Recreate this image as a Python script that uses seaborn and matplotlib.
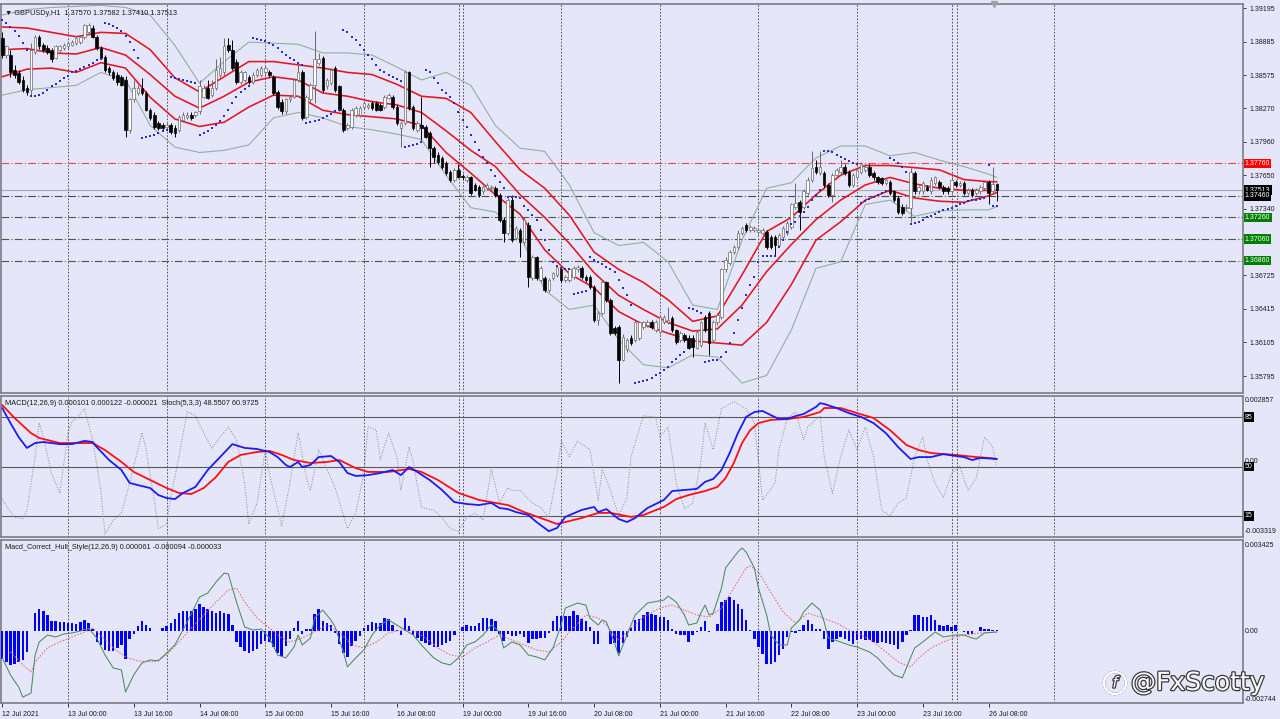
"""GBPUSD H1 chart: envelopes, Bollinger bands, parabolic SAR, MACD/Stoch pane and Hull MACD pane."""

import matplotlib

matplotlib.use("Agg")
import matplotlib.pyplot as plt
import matplotlib.patheffects as pe
from matplotlib.patches import Ellipse
import numpy as np
import pandas as pd
import seaborn as sns


# candles, prices in pips (1e-4), one value per hourly bar starting 12 Jul 08:00
OPEN_PIPS = [
    13892, 13876, 13876, 13862, 13859, 13853, 13846, 13844, 13879, 13893,
    13885, 13883, 13881, 13873, 13881, 13883, 13884, 13885, 13887, 13888,
    13893, 13897, 13901, 13893, 13883, 13874, 13864, 13860, 13858, 13856,
    13853, 13807, 13835, 13841, 13846, 13841, 13825, 13821, 13813, 13811,
    13810, 13811, 13809, 13807, 13816, 13819, 13821, 13821, 13824, 13837,
    13846, 13839, 13846, 13858, 13860, 13885, 13881, 13870, 13851, 13853,
    13856, 13851, 13858, 13858, 13860, 13860, 13856, 13842, 13833, 13824,
    13835, 13837, 13853, 13860, 13819, 13835, 13848, 13869, 13873, 13847,
    13850, 13864, 13847, 13825, 13809, 13810, 13821, 13821, 13828, 13828,
    13832, 13832, 13830, 13828, 13836, 13837, 13828, 13809, 13813, 13860,
    13828, 13807, 13811, 13810, 13804, 13790, 13784, 13781, 13776, 13768,
    13761, 13770, 13764, 13761, 13763, 13756, 13754, 13750, 13753, 13753,
    13753, 13747, 13724, 13712, 13742, 13707, 13714, 13703, 13719, 13670,
    13689, 13668, 13670, 13659, 13670, 13673, 13678, 13668, 13668, 13671,
    13678, 13679, 13671, 13671, 13662, 13631, 13638, 13666, 13650, 13624,
    13625, 13594, 13604, 13615, 13613, 13615, 13625, 13627, 13629, 13622,
    13620, 13629, 13629, 13633, 13622, 13613, 13617, 13615, 13615, 13605,
    13608, 13634, 13638, 13613, 13629, 13634, 13678, 13684, 13694, 13699,
    13712, 13719, 13714, 13714, 13713, 13712, 13713, 13708, 13708, 13701,
    13708, 13712, 13717, 13736, 13740, 13736, 13749, 13761, 13773, 13767,
    13767, 13756, 13747, 13765, 13768, 13773, 13768, 13756, 13763, 13768,
    13770, 13773, 13767, 13763, 13762, 13758, 13759, 13750, 13744, 13736,
    13735, 13735, 13767, 13750, 13750, 13754, 13750, 13758, 13759, 13754,
    13753, 13750, 13759, 13756, 13758, 13749, 13751, 13749, 13750, 13753,
    13759, 13750, 13757,
]
HIGH_PIPS = [
    13897, 13885, 13881, 13867, 13862, 13857, 13848, 13887, 13895, 13895,
    13887, 13885, 13883, 13885, 13885, 13887, 13889, 13890, 13894, 13895,
    13905, 13906, 13904, 13895, 13884, 13876, 13866, 13862, 13860, 13858,
    13857, 13836, 13853, 13848, 13855, 13843, 13827, 13823, 13815, 13813,
    13813, 13813, 13811, 13821, 13823, 13823, 13823, 13824, 13853, 13848,
    13853, 13853, 13872, 13874, 13892, 13892, 13890, 13872, 13862, 13861,
    13858, 13860, 13864, 13866, 13866, 13862, 13858, 13844, 13835, 13836,
    13839, 13855, 13867, 13862, 13839, 13850, 13898, 13878, 13875, 13855,
    13864, 13866, 13848, 13827, 13813, 13827, 13829, 13829, 13834, 13832,
    13834, 13834, 13832, 13839, 13841, 13839, 13830, 13815, 13862, 13861,
    13830, 13815, 13837, 13811, 13806, 13792, 13786, 13783, 13778, 13770,
    13772, 13775, 13766, 13765, 13764, 13758, 13756, 13756, 13758, 13756,
    13755, 13749, 13726, 13744, 13747, 13718, 13716, 13726, 13722, 13691,
    13690, 13681, 13672, 13670, 13676, 13682, 13679, 13673, 13679, 13681,
    13682, 13681, 13673, 13673, 13664, 13640, 13668, 13667, 13652, 13626,
    13627, 13618, 13615, 13617, 13631, 13630, 13630, 13631, 13631, 13631,
    13636, 13636, 13643, 13635, 13623, 13621, 13619, 13617, 13617, 13622,
    13630, 13636, 13640, 13631, 13638, 13679, 13689, 13696, 13701, 13714,
    13718, 13721, 13719, 13718, 13716, 13716, 13714, 13710, 13710, 13712,
    13718, 13723, 13739, 13758, 13742, 13752, 13763, 13787, 13779, 13787,
    13769, 13758, 13767, 13772, 13779, 13775, 13770, 13767, 13772, 13777,
    13775, 13775, 13769, 13764, 13763, 13763, 13761, 13751, 13746, 13738,
    13738, 13772, 13769, 13755, 13760, 13756, 13763, 13764, 13761, 13756,
    13755, 13763, 13761, 13760, 13760, 13753, 13753, 13753, 13756, 13761,
    13761, 13773, 13758,
]
LOW_PIPS = [
    13873, 13873, 13856, 13855, 13849, 13842, 13839, 13839, 13877, 13882,
    13879, 13877, 13870, 13872, 13879, 13881, 13882, 13884, 13885, 13886,
    13891, 13895, 13892, 13881, 13872, 13860, 13858, 13853, 13848, 13847,
    13800, 13804, 13833, 13839, 13839, 13824, 13816, 13808, 13807, 13807,
    13808, 13803, 13800, 13805, 13814, 13817, 13816, 13819, 13822, 13836,
    13835, 13837, 13844, 13856, 13858, 13879, 13862, 13849, 13849, 13851,
    13849, 13849, 13856, 13856, 13858, 13856, 13839, 13826, 13822, 13822,
    13833, 13836, 13851, 13816, 13817, 13833, 13832, 13867, 13842, 13845,
    13848, 13842, 13824, 13805, 13807, 13808, 13819, 13819, 13826, 13826,
    13825, 13824, 13824, 13826, 13835, 13826, 13811, 13791, 13811, 13825,
    13807, 13805, 13798, 13799, 13773, 13776, 13775, 13771, 13765, 13759,
    13759, 13762, 13761, 13759, 13747, 13750, 13745, 13748, 13751, 13751,
    13745, 13722, 13703, 13710, 13703, 13705, 13689, 13701, 13662, 13668,
    13668, 13666, 13657, 13657, 13668, 13671, 13666, 13666, 13666, 13669,
    13676, 13669, 13666, 13660, 13629, 13627, 13636, 13648, 13617, 13617,
    13573, 13593, 13602, 13608, 13611, 13613, 13623, 13625, 13623, 13620,
    13618, 13628, 13628, 13620, 13609, 13611, 13611, 13604, 13597, 13604,
    13606, 13620, 13599, 13611, 13627, 13632, 13676, 13682, 13692, 13697,
    13710, 13713, 13713, 13713, 13711, 13710, 13697, 13697, 13691, 13699,
    13706, 13710, 13715, 13734, 13714, 13734, 13747, 13759, 13766, 13765,
    13754, 13745, 13740, 13763, 13766, 13765, 13754, 13754, 13762, 13766,
    13768, 13763, 13761, 13757, 13756, 13756, 13747, 13740, 13729, 13728,
    13733, 13722, 13748, 13748, 13748, 13750, 13748, 13756, 13752, 13748,
    13748, 13748, 13754, 13754, 13747, 13747, 13745, 13747, 13748, 13751,
    13738, 13748, 13741,
]
CLOSE_PIPS = [
    13876, 13884, 13860, 13858, 13851, 13844, 13842, 13881, 13893, 13884,
    13881, 13879, 13872, 13884, 13884, 13885, 13887, 13888, 13892, 13893,
    13904, 13904, 13893, 13883, 13873, 13862, 13860, 13855, 13851, 13848,
    13807, 13835, 13846, 13846, 13841, 13825, 13818, 13810, 13809, 13809,
    13811, 13805, 13804, 13819, 13821, 13821, 13818, 13823, 13847, 13846,
    13836, 13846, 13862, 13864, 13884, 13881, 13864, 13851, 13860, 13860,
    13851, 13858, 13862, 13864, 13864, 13858, 13841, 13828, 13824, 13835,
    13837, 13853, 13860, 13818, 13837, 13848, 13872, 13872, 13844, 13853,
    13862, 13844, 13825, 13807, 13811, 13825, 13827, 13827, 13832, 13830,
    13827, 13825, 13825, 13837, 13839, 13828, 13813, 13813, 13860, 13827,
    13809, 13813, 13809, 13800, 13790, 13782, 13777, 13773, 13767, 13761,
    13770, 13763, 13763, 13763, 13749, 13751, 13747, 13754, 13756, 13754,
    13747, 13724, 13712, 13742, 13705, 13716, 13703, 13724, 13671, 13689,
    13670, 13679, 13659, 13668, 13675, 13680, 13668, 13671, 13678, 13679,
    13680, 13671, 13668, 13662, 13631, 13638, 13666, 13650, 13619, 13619,
    13594, 13616, 13613, 13610, 13629, 13629, 13629, 13629, 13625, 13629,
    13634, 13634, 13631, 13622, 13611, 13619, 13613, 13605, 13606, 13620,
    13629, 13622, 13610, 13629, 13636, 13678, 13687, 13694, 13699, 13712,
    13716, 13714, 13717, 13716, 13714, 13714, 13699, 13699, 13701, 13710,
    13716, 13721, 13738, 13739, 13731, 13750, 13761, 13772, 13768, 13773,
    13756, 13747, 13765, 13770, 13773, 13767, 13756, 13765, 13770, 13775,
    13773, 13765, 13763, 13759, 13758, 13761, 13749, 13742, 13731, 13730,
    13736, 13768, 13750, 13754, 13758, 13751, 13761, 13763, 13754, 13750,
    13750, 13761, 13756, 13758, 13749, 13751, 13747, 13751, 13754, 13759,
    13749, 13757, 13751,
]

# parabolic SAR, one dot per bar (pips)
SAR_PIPS = [
    13908, 13906, 13902, 13898, 13894, 13887, 13881,
    13838, 13838, 13839, 13841, 13844, 13847, 13849, 13852, 13855, 13857,
    13860, 13861, 13863, 13865, 13867, 13869, 13871, 13872,
    13906, 13905, 13903, 13901, 13898, 13894, 13888, 13881, 13873,
    13799, 13800, 13801, 13802, 13804, 13806, 13807,
    13856, 13855, 13854, 13853, 13852, 13851, 13850,
    13802, 13804, 13806, 13809, 13811, 13815, 13820, 13825, 13832, 13837,
    13842, 13845, 13847,
    13892, 13891, 13890, 13889, 13887, 13885, 13883, 13879, 13876, 13873,
    13871, 13869, 13867,
    13813, 13814, 13815, 13816, 13818, 13820, 13822, 13824, 13825,
    13899, 13897, 13893, 13890, 13885, 13881, 13876, 13872, 13867, 13862,
    13860, 13858, 13856, 13854, 13852,
    13791, 13792, 13793, 13794, 13796,
    13862, 13860, 13855, 13850, 13844, 13841, 13837, 13832, 13823, 13816,
    13810, 13802, 13796, 13788, 13782, 13776, 13770, 13764, 13759, 13753,
    13745, 13745, 13745, 13744, 13737, 13733, 13728, 13724, 13714, 13705,
    13696, 13685, 13681, 13679, 13678, 13678,
    13655, 13656, 13657, 13658,
    13689, 13687, 13685, 13683, 13680, 13678, 13676, 13668, 13661, 13654, 13645,
    13573, 13574, 13575, 13576, 13578, 13580, 13582, 13585, 13588, 13592,
    13595, 13599, 13602,
    13642, 13641, 13640, 13638,
    13592, 13593, 13594, 13594, 13597, 13602, 13610, 13619, 13631, 13642,
    13654, 13664, 13671, 13685, 13690, 13690, 13690, 13690, 13699, 13705,
    13713, 13720, 13722, 13727, 13731, 13736, 13742, 13747, 13751,
    13787, 13787, 13786, 13784, 13782, 13780, 13778, 13776, 13775,
    13739, 13741, 13743, 13745, 13747, 13749, 13750,
    13781, 13779, 13776, 13773, 13768,
    13720, 13721, 13722, 13724, 13726, 13727, 13729, 13731, 13733, 13734,
    13735, 13737, 13738, 13739, 13741, 13742, 13742, 13743, 13744,
    13774,
    13737, 13737,
]

# channel and Bollinger lines, read every 6 bars (pips)
BAND_BARS = list(range(0, 241, 6)) + [242]
ENV_UPPER_PIPS = [
    13902, 13901, 13897, 13893, 13897, 13896, 13881, 13855, 13842, 13856,
    13870, 13870, 13867, 13864, 13860, 13858, 13849, 13838, 13836, 13823,
    13796, 13770, 13753, 13728, 13694, 13678, 13666, 13650, 13630, 13635,
    13673, 13713, 13726, 13747, 13765, 13774, 13774, 13772, 13770, 13761,
    13759, 13759,
]
ENV_MID_PIPS = [
    13881, 13882, 13878, 13877, 13883, 13876, 13858, 13838, 13827, 13838,
    13851, 13856, 13853, 13841, 13838, 13833, 13830, 13823, 13806, 13788,
    13773, 13747, 13726, 13702, 13675, 13654, 13641, 13629, 13621, 13623,
    13645, 13676, 13701, 13724, 13742, 13756, 13763, 13757, 13753, 13751,
    13751, 13751,
]
ENV_LOWER_PIPS = [
    13856, 13863, 13864, 13860, 13869, 13864, 13837, 13817, 13810, 13814,
    13828, 13839, 13838, 13825, 13821, 13819, 13817, 13811, 13786, 13767,
    13747, 13729, 13696, 13674, 13661, 13639, 13627, 13619, 13612, 13610,
    13608, 13629, 13664, 13705, 13722, 13742, 13751, 13744, 13741, 13740,
    13746, 13749,
]
BB_UPPER_PIPS = [
    13913, 13918, 13920, 13921, 13922, 13920, 13913, 13885, 13850, 13870,
    13888, 13887, 13886, 13878, 13878, 13876, 13865, 13853, 13860, 13848,
    13811, 13790, 13787, 13756, 13712, 13700, 13703, 13685, 13645, 13641,
    13705, 13753, 13758, 13781, 13792, 13792, 13783, 13786, 13779, 13773,
    13766, 13763,
]
BB_LOWER_PIPS = [
    13839, 13844, 13846, 13848, 13860, 13853, 13811, 13791, 13786, 13788,
    13793, 13818, 13823, 13818, 13810, 13807, 13803, 13798, 13765, 13735,
    13731, 13710, 13659, 13641, 13645, 13613, 13590, 13587, 13599, 13597,
    13573, 13580, 13622, 13679, 13685, 13738, 13742, 13727, 13732, 13733,
    13733, 13736,
]

LEVEL_PRICES = [1.37760, 1.37513, 1.37460, 1.37260, 1.37060, 1.36860]
PRICE_TICKS = [1.39195, 1.38885, 1.38575, 1.38270, 1.37960, 1.37650,
               1.37340, 1.36725, 1.36415, 1.36105, 1.35795]

# MACD(12,26,9) lines, values in 1e-5
MACD_MAIN_BARS = [
    0, 2, 4, 6, 8, 10, 12, 14, 17, 20, 22, 23, 26, 29, 31, 33, 36, 38, 40, 42,
    44, 47, 50, 53, 56, 59, 62, 65, 67, 69, 70, 72, 73, 75, 77, 80, 82, 84, 86, 89,
    92, 95, 97, 99, 101, 104, 107, 110, 113, 116, 119, 121, 123, 125, 128, 130, 133, 135, 137, 141,
    144, 145, 147, 150, 152, 154, 157, 161, 163, 166, 169, 171, 173, 175, 177, 179, 181, 183, 185, 187,
    189, 191, 193, 195, 198, 199, 200, 203, 206, 209, 212, 215, 218, 221, 223, 226, 229, 232, 234, 236,
    238, 242,
]
MACD_MAIN = [
    251, 180, 114, 63, 86, 91, 86, 81, 81, 96, 91, 67, 6, -41, -102, -112, -126, -159, -173, -178,
    -149, -121, -41, 20, 81, 63, 58, 44, 20, -17, -27, -3, -27, -17, 20, 25, -3, -55, -69, -65,
    -55, -41, -65, -27, -50, -88, -135, -192, -201, -206, -196, -220, -225, -239, -253, -286, -329, -314, -262, -229,
    -215, -239, -225, -272, -286, -267, -220, -182, -140, -135, -130, -97, -83, -41, 39, 133, 209, 232, 237, 218,
    199, 199, 213, 223, 256, 274, 270, 251, 227, 209, 180, 133, 67, 11, 20, 20, 34, 25, 20, 6,
    16, 11,
]
MACD_SIGNAL_BARS = [
    0, 3, 7, 9, 14, 19, 22, 25, 29, 32, 36, 40, 43, 46, 49, 52, 55, 58, 62, 65,
    68, 71, 75, 79, 82, 86, 89, 94, 99, 102, 106, 111, 116, 120, 123, 127, 131, 135, 136, 141,
    145, 148, 153, 156, 161, 164, 167, 171, 174, 176, 178, 180, 182, 184, 187, 191, 195, 199, 200, 204,
    208, 212, 216, 220, 223, 226, 229, 232, 237, 240, 242,
]
MACD_SIGNAL = [
    265, 204, 133, 110, 86, 86, 86, 53, -3, -50, -88, -126, -149, -154, -126, -74, -3, 30, 44, 49,
    30, 6, -8, -3, 6, -32, -50, -50, -36, -50, -88, -149, -182, -196, -206, -239, -267, -295, -291, -267,
    -243, -243, -262, -253, -215, -178, -159, -140, -121, -79, -8, 86, 147, 180, 195, 199, 209, 232, 251, 251,
    227, 204, 147, 77, 53, 39, 34, 30, 20, 16, 11,
]

# Stoch(5,3,3) %K, 0..100
STOCH_BARS = [
    0, 1, 3, 5, 6, 8, 9, 10, 12, 14, 16, 17, 18, 20, 22, 24, 25, 27, 29, 31,
    34, 35, 37, 38, 40, 41, 43, 45, 47, 49, 51, 53, 55, 57, 59, 60, 62, 64, 65, 68,
    70, 72, 74, 75, 77, 79, 81, 84, 86, 88, 89, 91, 92, 94, 96, 97, 99, 100, 102, 105,
    107, 109, 111, 113, 115, 117, 119, 121, 123, 124, 126, 129, 131, 133, 135, 136, 138, 140, 143, 145,
    146, 148, 150, 152, 153, 156, 159, 160, 162, 164, 166, 168, 170, 171, 173, 175, 178, 181, 183, 185,
    188, 189, 191, 193, 195, 196, 199, 200, 202, 204, 206, 208, 210, 212, 214, 216, 218, 220, 222, 224,
    225, 227, 229, 231, 233, 235, 237, 239, 241, 242,
]
STOCH_K = [
    27, 22, 14, 13, 19, 57, 81, 71, 45, 31, 74, 82, 84, 91, 69, 33, 2, 12, 17, 38,
    74, 62, 26, 6, 9, 28, 57, 89, 86, 74, 63, 71, 78, 69, 38, 9, 24, 62, 45, 8,
    38, 74, 42, 33, 62, 48, 35, 6, 17, 45, 78, 76, 55, 74, 57, 33, 64, 53, 21, 19,
    14, 6, 4, 14, 17, 12, 48, 24, 35, 33, 33, 24, 21, 14, 45, 68, 57, 68, 62, 26,
    48, 33, 15, 28, 57, 86, 85, 71, 78, 38, 20, 24, 53, 81, 62, 91, 96, 91, 81, 26,
    38, 62, 84, 89, 69, 78, 86, 57, 31, 57, 76, 62, 78, 57, 19, 15, 24, 28, 57, 71,
    55, 38, 28, 45, 50, 33, 42, 71, 64, 49,
]
STOCH_LEVELS = [85, 50, 15]

# Macd_Correct_Hull_Style histogram, one per bar, values in 1e-5
HULL_HIST = [
    -112, -124, -136, -132, -124, -116, -84, 0, 72, 88,
    80, 64, 40, 40, 36, 36, 32, 32, 28, 36,
    44, 32, 8, -44, -56, -76, -80, -80, -68, -56,
    -112, -32, -12, 20, 40, 24, 12, 0, 0, 12,
    20, 32, 48, 72, 80, 80, 80, 88, 108, 96,
    88, 80, 72, 80, 72, 68, 24, -44, -64, -80,
    -88, -80, -72, -52, -40, -44, -64, -88, -100, -60,
    -32, 12, 40, -12, 8, 8, 68, 88, 40, 32,
    24, -8, -52, -88, -104, -60, -40, -20, 12, 24,
    36, 32, 32, 52, 48, 24, 4, -16, 52, 20,
    -16, -28, -40, -48, -56, -64, -64, -56, -48, -40,
    -16, 0, 16, 24, 20, 20, 32, 52, 52, 48,
    40, -12, -40, -12, -20, -20, -12, -24, -48, -32,
    -32, -28, -28, -8, 40, 60, 60, 60, 60, 80,
    64, 48, 40, 16, -52, -52, 0, 0, -52, -48,
    -88, -48, -24, 12, 44, 48, 64, 76, 68, 64,
    56, 56, 44, 8, -12, -16, -16, -44, -16, -4,
    16, 40, -4, 0, 28, 116, 124, 136, 124, 108,
    88, 44, 4, -32, -64, -92, -132, -132, -124, -96,
    -72, -24, -4, -8, 4, 24, 44, 28, 8, 8,
    -32, -72, -44, -32, -24, -32, -40, -52, -36, -32,
    -36, -36, -44, -48, -44, -48, -52, -56, -72, -44,
    -16, 4, 64, 64, 56, 56, 64, 44, 24, 20,
    24, 16, 24, 0, -4, -12, -12, 0, 16, 8,
    8, 4, 6,
]
HULL_LINE_BARS = [
    0, 2, 4, 5, 7, 8, 9, 11, 13, 15, 17, 19, 21, 23, 25, 27, 29, 30, 32, 34,
    36, 38, 40, 42, 45, 48, 50, 52, 54, 55, 57, 59, 61, 63, 65, 67, 69, 71, 72, 73,
    75, 76, 78, 80, 81, 83, 84, 86, 88, 90, 92, 94, 96, 98, 100, 102, 105, 107, 109, 111,
    113, 115, 117, 119, 121, 122, 124, 126, 128, 130, 132, 134, 136, 137, 140, 142, 143, 145, 146, 147,
    149, 150, 152, 154, 157, 161, 162, 164, 166, 167, 169, 170, 171, 172, 173, 175, 176, 179, 180, 181,
    183, 184, 186, 187, 189, 191, 192, 194, 195, 197, 199, 200, 201, 204, 206, 208, 211, 213, 215, 217,
    219, 220, 222, 224, 227, 229, 232, 234, 236, 237, 239, 242,
]
HULL_LINE = [
    -108, -176, -225, -265, -249, -96, -44, -16, -24, -12, -8, 0, 12, -28, -96, -148, -156, -245, -176, -128,
    -116, -120, -88, -56, 36, 136, 152, 196, 232, 229, 116, 16, 4, 8, -28, -96, -108, -64, -16, -56,
    -28, 52, 84, 44, 16, -84, -144, -108, -76, -16, 24, 44, 24, 4, -16, -56, -108, -128, -136, -108,
    -56, -44, -16, 24, -4, -68, -44, -56, -96, -104, -116, -68, 24, 92, 112, 104, 52, 24, 44, 36,
    -48, -100, -16, 64, 112, 124, 140, 116, 64, 24, 32, 72, 104, 64, 72, 172, 253, 317, 333, 317,
    253, 172, 64, -16, -56, -56, 12, 44, 76, 112, 84, 36, -28, -44, -56, -64, -84, -108, -144, -176,
    -188, -148, -68, -44, -4, -24, -16, -16, -28, -32, -8, -4,
]
HULL_SIGNAL_BARS = [
    2, 5, 7, 8, 11, 14, 17, 20, 22, 24, 27, 30, 33, 37, 40, 43, 46, 49, 52, 55,
    57, 59, 62, 65, 68, 70, 73, 76, 79, 82, 85, 88, 91, 94, 97, 100, 103, 106, 109, 112,
    115, 118, 121, 124, 127, 130, 133, 136, 138, 142, 145, 147, 150, 153, 156, 160, 163, 166, 169, 172,
    175, 178, 181, 182, 184, 187, 190, 193, 196, 199, 203, 206, 209, 212, 215, 218, 221, 223, 226, 229,
    232, 234, 238, 242,
]
HULL_SIGNAL = [
    -84, -136, -164, -124, -68, -44, -24, -4, 12, -16, -68, -104, -120, -124, -96, -44, 12, 64, 116, 164,
    172, 116, 52, 12, -28, -44, -28, -4, 24, -4, -56, -68, -44, -8, 4, 4, -28, -68, -96, -104,
    -68, -44, -16, -36, -56, -76, -84, -44, -4, 64, 52, 24, -36, 12, 56, 92, 104, 84, 64, 56,
    92, 172, 253, 261, 237, 156, 76, 32, 72, 56, 32, 4, -16, -44, -84, -124, -144, -108, -68, -44,
    -24, -16, -8, -4,
]

# period separators and time axis
SEPARATOR_BARS = [16, 40, 64, 88, 111.2, 112.1, 136, 160, 184, 208, 231.2, 232.2, 256]
TIME_LABEL_BARS = [0, 16, 32, 48, 64, 80, 96, 112, 128, 144, 160, 176, 192, 208, 224, 240]
TIME_LABELS = [
    "12 Jul 2021", "13 Jul 00:00", "13 Jul 16:00", "14 Jul 08:00", "15 Jul 00:00",
    "15 Jul 16:00", "16 Jul 08:00", "19 Jul 00:00", "19 Jul 16:00", "20 Jul 08:00",
    "21 Jul 00:00", "21 Jul 16:00", "22 Jul 08:00", "23 Jul 00:00", "23 Jul 16:00",
    "26 Jul 08:00",
]

FIG_W, FIG_H = 1280, 719
BG = "#E6E6FA"
TEXT = "#1a1a1a"
XLIM = (-0.3, 301.9)
PRICE_LIM = (1.35638, 1.39232)
MACD_LIM = (-0.003565, 0.003076)
HULL_LIM = (-0.002887, 0.003649)


def pips(values):
    return np.asarray(values, dtype=float) / 10000.0


def scaled(values):
    return np.asarray(values, dtype=float) * 1e-5


def pane_rect(top, bottom, left=1, right=1243):
    return [left / FIG_W, 1 - bottom / FIG_H, (right - left) / FIG_W, (bottom - top) / FIG_H]


def style_pane(ax):
    ax.set_facecolor(BG)
    ax.set_xlim(*XLIM)
    for spine in ax.spines.values():
        spine.set_color("#7c7c84")
        spine.set_linewidth(1.2)
    ax.tick_params(axis="x", bottom=False, labelbottom=False)
    ax.tick_params(axis="y", left=False, labelleft=False, right=False, labelright=False)
    for bar in SEPARATOR_BARS:
        ax.axvline(bar, color="#3c3c3c", linewidth=0.6, linestyle=(0, (2, 2)), zorder=1)


def trace(ax, x, y, color, width, style="-", z=3):
    sns.lineplot(x=list(x), y=list(y), ax=ax, color=color, linewidth=width, linestyle=style,
                 estimator=None, sort=False, legend=False, zorder=z)


def tag(ax, y, text, face, color="white"):
    ax.text(1.0015, y, text, transform=ax.get_yaxis_transform(), ha="left", va="center",
            fontsize=5, color=color, zorder=10, clip_on=False,
            bbox=dict(boxstyle="square,pad=0.18", fc=face, ec="none"))


def draw_candles(ax, frame):
    rising = frame["close"] >= frame["open"]
    for mask, face, edge in ((rising, "#FFFFFF", "#6a6a6a"), (~rising, "#000000", "#000000")):
        part = frame[mask]
        ax.vlines(part["bar"], part["low"], part["high"], colors=edge, linewidth=0.7, zorder=4)
        bottom = part[["open", "close"]].min(axis=1)
        height = (part["close"] - part["open"]).abs().clip(lower=0.00003)
        ax.bar(part["bar"], height, bottom=bottom, width=0.62, color=face,
               edgecolor=edge, linewidth=0.5, zorder=5)


def main():
    sns.set_theme(style="white", rc={"patch.force_edgecolor": False})
    plt.rcParams["font.family"] = ["Liberation Sans", "DejaVu Sans"]

    candles = pd.DataFrame({
        "bar": np.arange(len(OPEN_PIPS)),
        "open": pips(OPEN_PIPS),
        "high": pips(HIGH_PIPS),
        "low": pips(LOW_PIPS),
        "close": pips(CLOSE_PIPS),
    })

    fig = plt.figure(figsize=(FIG_W / 100, FIG_H / 100), dpi=100, facecolor=BG)
    ax_p = fig.add_axes(pane_rect(4, 393))
    ax_m = fig.add_axes(pane_rect(396, 537))
    ax_h = fig.add_axes(pane_rect(540, 703))
    for ax in (ax_p, ax_m, ax_h):
        style_pane(ax)

    # price pane
    ax_p.set_ylim(*PRICE_LIM)
    level_styles = [
        ("#e8474a", (0, (7, 2, 1, 2)), "#FF0000"),
        ("#a8a8b0", "-", "#000000"),
        ("#4a4a4a", (0, (7, 2, 1, 2)), "#000000"),
        ("#3f5f48", (0, (7, 2, 1, 2)), "#008000"),
        ("#3f5f48", (0, (7, 2, 1, 2)), "#008000"),
        ("#3f5f48", (0, (7, 2, 1, 2)), "#008000"),
    ]
    for price, (color, style, face) in zip(LEVEL_PRICES, level_styles):
        ax_p.axhline(price, color=color, linewidth=0.8, linestyle=style, zorder=2)

    trace(ax_p, BAND_BARS, pips(BB_UPPER_PIPS), "#8fb1a0", 0.8, z=2.5)
    trace(ax_p, BAND_BARS, pips(BB_LOWER_PIPS), "#8fb1a0", 0.8, z=2.5)
    for series in (ENV_UPPER_PIPS, ENV_MID_PIPS, ENV_LOWER_PIPS):
        trace(ax_p, BAND_BARS, pips(series), "#e5141e", 1.15, z=3)
    draw_candles(ax_p, candles)
    sns.scatterplot(x=candles["bar"], y=pips(SAR_PIPS), ax=ax_p, marker="s", s=2.8,
                    color="#2a2ad2", linewidth=0, legend=False, zorder=6)

    ax_p.yaxis.tick_right()
    ax_p.set_yticks(PRICE_TICKS)
    ax_p.set_yticklabels([f"{v:.5f}" for v in PRICE_TICKS])
    ax_p.tick_params(axis="y", right=True, labelright=True, labelsize=5, length=2.5,
                     width=0.6, pad=2, colors=TEXT)
    for price, (color, style, face) in zip(LEVEL_PRICES, level_styles):
        tag(ax_p, price, f"{price:.5f}", face)
    ax_p.text(0.003, 0.985, "\u25bc GBPUSDy,H1  1.37570 1.37582 1.37410 1.37513",
              transform=ax_p.transAxes, ha="left", va="top", fontsize=5.3, color=TEXT)
    ax_p.plot([241.3], [PRICE_LIM[1]], marker="v", markersize=4, color="#a0a0a8",
              clip_on=False, zorder=7)

    # MACD + Stoch pane (stochastic drawn on the same 0..100 span of the pane)
    ax_m.set_ylim(*MACD_LIM)
    lo, hi = MACD_LIM
    for level in STOCH_LEVELS:
        ax_m.axhline(lo + (hi - lo) * level / 100, color="#5a5a5a", linewidth=0.8, zorder=2)
    stoch_y = lo + (hi - lo) * np.asarray(STOCH_K, dtype=float) / 100
    trace(ax_m, STOCH_BARS, stoch_y, "#7f8f88", 0.7, style=(0, (1, 1.6)), z=2.5)
    trace(ax_m, MACD_SIGNAL_BARS, scaled(MACD_SIGNAL), "#ff1010", 1.3, z=3)
    trace(ax_m, MACD_MAIN_BARS, scaled(MACD_MAIN), "#1c1cf0", 1.3, z=3.2)
    ax_m.text(0.003, 0.975, "MACD(12,26,9) 0.000101 0.000122 -0.000021  Stoch(5,3,3) 48.5507 60.9725",
              transform=ax_m.transAxes, ha="left", va="top", fontsize=5.3, color=TEXT)
    for value, text in ((0.002857, "0.002857"), (0.0, "0.00"), (-0.003319, "-0.003319")):
        tag(ax_m, value, text, "none", color=TEXT)
    for level in STOCH_LEVELS:
        tag(ax_m, lo + (hi - lo) * level / 100, str(level), "#000000")

    # Hull MACD pane
    ax_h.set_ylim(*HULL_LIM)
    ax_h.bar(candles["bar"], scaled(HULL_HIST), width=0.6, color="#0000ff",
             edgecolor="none", linewidth=0, zorder=3)
    trace(ax_h, HULL_SIGNAL_BARS, scaled(HULL_SIGNAL), "#e26a6a", 0.75, style=(0, (1.5, 1.5)), z=3.5)
    trace(ax_h, HULL_LINE_BARS, scaled(HULL_LINE), "#4d8a5e", 0.75, z=3.6)
    ax_h.text(0.003, 0.975, "Macd_Correct_Hull_Style(12,26,9) 0.000061 -0.000094 -0.000033",
              transform=ax_h.transAxes, ha="left", va="top", fontsize=5.3, color=TEXT)
    for value, text in ((0.003425, "0.003425"), (0.0, "0.00"), (-0.002744, "-0.002744")):
        tag(ax_h, value, text, "none", color=TEXT)
    ax_h.set_xticks(TIME_LABEL_BARS)
    ax_h.set_xticklabels(TIME_LABELS)
    ax_h.tick_params(axis="x", bottom=True, labelbottom=True, labelsize=5, length=3,
                     width=0.6, pad=2.5, colors=TEXT)
    for label in ax_h.get_xticklabels():
        label.set_horizontalalignment("left")

    for ax in (ax_p, ax_m, ax_h):
        ax.set_xlabel("")
        ax.set_ylabel("")

    # watermark
    halo = [pe.withStroke(linewidth=1.8, foreground="#3a3a3a")]
    fig.text(1131 / FIG_W, 1 - 683 / FIG_H, "@FxScotty", fontsize=18, color="white",
             ha="left", va="center", path_effects=halo, family="DejaVu Sans")
    ring = Ellipse((1115 / FIG_W, 1 - 683 / FIG_H), 22 / FIG_W, 22 / FIG_H,
                   transform=fig.transFigure, fill=False, ec="white", lw=1.8, path_effects=halo)
    fig.add_artist(ring)
    fig.text(1115 / FIG_W, 1 - 683 / FIG_H, "f", fontsize=11, color="white", style="italic",
             ha="center", va="center", path_effects=halo, family="DejaVu Sans")

    fig.savefig("out.png", dpi=100, facecolor=BG)
    plt.close(fig)


if __name__ == "__main__":
    main()
